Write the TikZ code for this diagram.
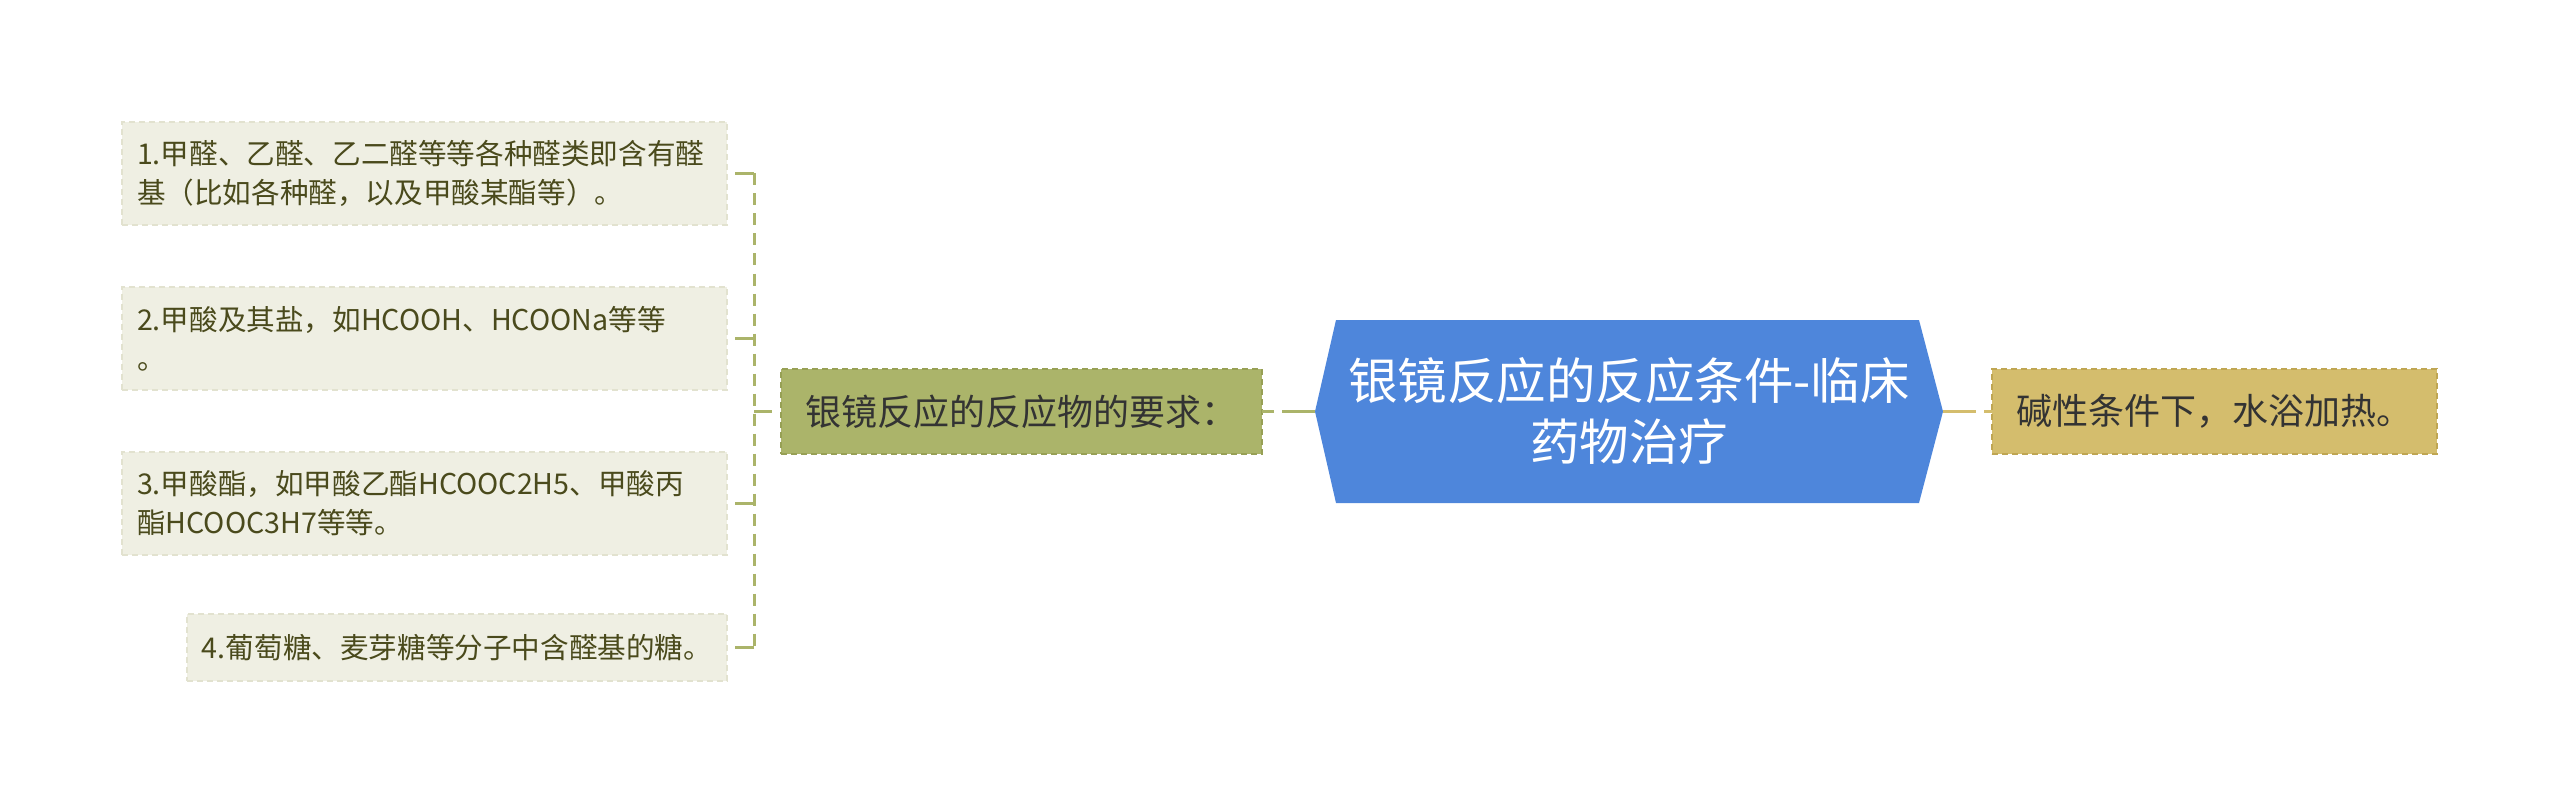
\documentclass[tikz,border=0pt]{standalone}
\usepackage{fontspec}
\setmainfont{Noto Sans CJK SC}
\usetikzlibrary{backgrounds}
\definecolor{leaffill}{HTML}{EFEFE3}
\definecolor{leafline}{HTML}{E2E2CF}
\definecolor{leaftext}{HTML}{4A4A1C}
\definecolor{brfill}{HTML}{ABB46A}
\definecolor{brline}{HTML}{97A055}
\definecolor{cfill}{HTML}{4E86DB}
\definecolor{rfill}{HTML}{D4BD6D}
\definecolor{rline}{HTML}{BFA653}
\definecolor{darktext}{HTML}{333333}
\begin{document}
\begin{tikzpicture}[x=1pt,y=-1pt,
  leafbox/.style={rectangle, fill=leaffill, draw=leafline, dash pattern=on 6pt off 4pt,
    line width=1.5pt, inner xsep=15pt, inner ysep=0pt, outer sep=0pt, text=leaftext,
    font=\fontsize{28.6}{39}\selectfont, align=left, anchor=east},
  widebox/.style={leafbox, text width=575pt, minimum height=103pt},
  brbox/.style={rectangle, fill=brfill, draw=brline, dash pattern=on 6pt off 4pt,
    line width=1.5pt, outer sep=0pt, text=darktext, minimum width=481pt, minimum height=85pt,
    font=\fontsize{36}{44}\selectfont},
  rbox/.style={rectangle, fill=rfill, draw=rline, dash pattern=on 6pt off 4pt,
    line width=1.5pt, outer sep=0pt, text=darktext, minimum width=445pt, minimum height=85pt,
    font=\fontsize{36}{44}\selectfont},
  ctext/.style={rectangle, outer sep=0pt, text=white, minimum width=628pt, minimum height=183pt,
    align=center, font=\fontsize{49.5}{61}\selectfont},
  lconn/.style={draw=brfill, line width=3pt},
  rconn/.style={draw=rfill, line width=3pt}
]
\useasboundingbox (0,0) rectangle (2560,805);

\node[widebox] (l1) at (727,173.5) {1.甲醛、乙醛、乙二醛等等各种醛类即含有醛\\基（比如各种醛，以及甲酸某酯等）。};
\node[widebox] (l2) at (727,338.5) {2.甲酸及其盐，如HCOOH、HCOONa等等\\。};
\node[widebox] (l3) at (727,503.5) {3.甲酸酯，如甲酸乙酯HCOOC2H5、甲酸丙\\酯HCOOC3H7等等。};
\node[leafbox, minimum height=67pt] (l4) at (727,647.5) {4.葡萄糖、麦芽糖等分子中含醛基的糖。};

\node[brbox] (br) at (1021.5,411.5) {银镜反应的反应物的要求：};
\node[ctext] (c) at (1629,411.5) {银镜反应的反应条件-临床\\药物治疗};
\node[rbox] (r) at (2214.5,411.5) {碱性条件下，水浴加热。};

\begin{scope}[on background layer]
\fill[cfill] (c.west) -- ([xshift=21pt]c.north west) -- ([xshift=-24pt]c.north east) -- (c.east)
  -- ([xshift=-24pt]c.south east) -- ([xshift=21pt]c.south west) -- cycle;
\end{scope}

\coordinate (hub) at (754,411.5);
\draw[lconn, dash pattern=on 18pt off 20pt] (hub) -- (br.west);
\draw[lconn, dash pattern=on 12pt off 8pt] (hub |- l1.east) -- (hub |- l4.east);
\foreach \n in {l1,l2,l3,l4} \draw[lconn, dash pattern=on 19pt off 20pt] (hub |- \n.east) -- (\n.east);
\draw[lconn, dash pattern=on 33pt off 8pt on 30pt off 1pt] (c.west) -- (br.east);
\draw[rconn, dash pattern=on 33pt off 8pt on 30pt off 1pt] (c.east) -- (r.west);
\end{tikzpicture}
\end{document}
